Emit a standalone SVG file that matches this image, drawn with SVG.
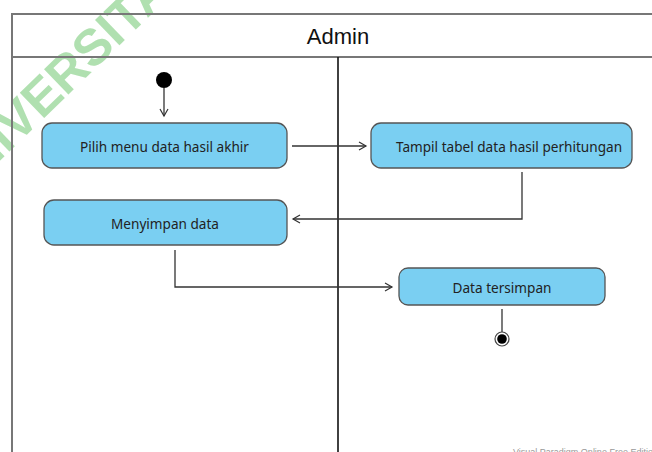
<svg xmlns="http://www.w3.org/2000/svg" width="652" height="452" viewBox="0 0 652 452">
  <defs>
    <marker id="open-arrow" markerWidth="10" markerHeight="10" refX="8" refY="5" orient="auto" markerUnits="userSpaceOnUse">
      <path d="M1,1 L8,5 L1,9" fill="none" stroke="#333" stroke-width="1.2"/>
    </marker>
    <style>
      .lane { fill: none; stroke: #777; stroke-width: 2; }
      .divider { stroke: #111; stroke-width: 1.6; }
      .action rect { fill: #7ACFF2; stroke: #555; stroke-width: 1.3; }
      .action text { font-family: "Noto Sans", "DejaVu Sans", sans-serif; font-size: 13.6px; fill: #222; text-anchor: middle; dominant-baseline: central; }
      .flow { fill: none; stroke: #333; stroke-width: 1.3; }
      .title { font-family: "Liberation Sans", Arial, sans-serif; font-size: 22px; fill: #111; text-anchor: middle; }
      .mark { font-family: "Liberation Sans", Arial, sans-serif; font-weight: bold; font-size: 51px; fill: #B0E0B0; }
      .credit { font-family: "Liberation Sans", Arial, sans-serif; font-size: 9px; fill: #999; }
    </style>
  </defs>

  <rect width="652" height="452" fill="#fff"/>

  <!-- background watermark -->
  <text class="mark" transform="translate(-46,205) rotate(-44)">UNIVERSITAS</text>

  <!-- swimlane frame -->
  <g id="lane-admin">
    <path class="lane" d="M660,14 H12 V460"/>
    <line class="lane" x1="12" y1="57" x2="660" y2="57"/>
    <line class="divider" x1="338" y1="57" x2="338" y2="460"/>
    <text class="title" x="338" y="44">Admin</text>
  </g>

  <!-- connectors -->
  <g id="connectors">
    <line class="flow" x1="164" y1="88" x2="164" y2="116" marker-end="url(#open-arrow)"/>
    <line class="flow" x1="292" y1="146" x2="366" y2="146" marker-end="url(#open-arrow)"/>
    <polyline class="flow" points="522,172 522,219 293,219" marker-end="url(#open-arrow)"/>
    <polyline class="flow" points="175,250 175,287 392,287" marker-end="url(#open-arrow)"/>
    <line class="flow" x1="502" y1="309" x2="502" y2="332"/>
  </g>

  <g id="start">
    <circle cx="164" cy="80" r="8" fill="#000"/>
  </g>

  <g id="pilih-menu" class="action">
    <rect x="42" y="123" width="245" height="45" rx="10"/>
    <text x="164.5" y="146">Pilih menu data hasil akhir</text>
  </g>

  <g id="tampil-tabel" class="action">
    <rect x="371" y="123" width="261" height="45" rx="10"/>
    <text x="509" y="146">Tampil tabel data hasil perhitungan</text>
  </g>

  <g id="menyimpan" class="action">
    <rect x="44" y="200" width="243" height="45" rx="10"/>
    <text x="165" y="223">Menyimpan data</text>
  </g>

  <g id="tersimpan" class="action">
    <rect x="399" y="268" width="206" height="37" rx="9"/>
    <text x="502" y="287">Data tersimpan</text>
  </g>

  <g id="end">
    <circle cx="502" cy="339" r="7" fill="#fff" stroke="#444" stroke-width="1.2"/>
    <circle cx="502" cy="339" r="4.8" fill="#000"/>
  </g>

  <text class="credit" x="513" y="455">Visual Paradigm Online Free Edition</text>
</svg>
